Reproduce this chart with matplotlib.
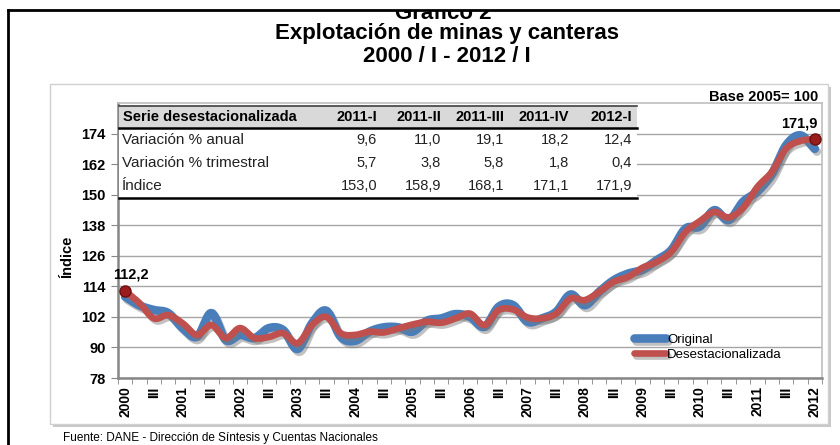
import numpy as np
import matplotlib
matplotlib.use("Agg")
from matplotlib import pyplot as plt
from matplotlib import patheffects as pe
from matplotlib.patches import Rectangle
from matplotlib.lines import Line2D

plt.rcParams['font.family'] = ['Liberation Sans', 'DejaVu Sans']

# quarters 2000-I .. 2012-I
years = list(range(2000, 2013))
original = [109.9, 106.5, 104.7, 103.5, 97.6, 94.2, 103.5, 92.9, 94.9, 93.7,
            97.6, 96.8, 89.4, 99.5, 104.4, 94.2, 92.6, 96.2, 97.9, 97.9,
            96.2, 100.5, 101.4, 103.1, 102.0, 98.1, 106.0, 106.6, 100.1, 101.4,
            104.0, 110.8, 106.6, 111.9, 116.4, 119.0, 120.5, 124.3, 128.2, 136.7,
            137.5, 143.9, 140.0, 147.2, 151.2, 158.0, 169.4, 173.3, 168.0]
desest = [112.2, 107.4, 101.4, 102.7, 99.5, 94.9, 98.8, 93.7, 97.6, 93.7,
          94.1, 95.6, 91.7, 98.8, 102.0, 95.6, 94.9, 96.2, 95.9, 97.5,
          99.0, 100.1, 99.7, 101.4, 103.3, 98.8, 104.7, 104.9, 101.8, 101.4,
          103.3, 109.2, 108.6, 111.9, 115.8, 117.7, 121.3, 123.6, 127.5, 135.4,
          139.6, 143.2, 141.1, 144.8, 153.0, 158.9, 168.1, 171.1, 171.9]

tab_cols = ['2011-I', '2011-II', '2011-III', '2011-IV', '2012-I']
tab_rows = ['Variación % anual', 'Variación % trimestral', 'Índice']
tab_vals = [['9,6', '11,0', '19,1', '18,2', '12,4'],
            ['5,7', '3,8', '5,8', '1,8', '0,4'],
            ['153,0', '158,9', '168,1', '171,1', '171,9']]

W, H = 840, 445


def px(x, y):
    return x / W, 1 - y / H


def smooth(y, n=20):
    # excel-like smoothed line (catmull-rom through the points)
    y = np.asarray(y, float)
    p = np.concatenate([[2 * y[0] - y[1]], y, [2 * y[-1] - y[-2]]])
    xs, ys = [], []
    t = np.linspace(0, 1, n, endpoint=False)
    for i in range(len(y) - 1):
        p0, p1, p2, p3 = p[i], p[i + 1], p[i + 2], p[i + 3]
        s = 0.5 * ((2 * p1) + (-p0 + p2) * t + (2 * p0 - 5 * p1 + 4 * p2 - p3) * t ** 2
                   + (-p0 + 3 * p1 - 3 * p2 + p3) * t ** 3)
        xs.extend(i + t)
        ys.extend(s)
    xs.append(len(y) - 1)
    ys.append(y[-1])
    return np.array(xs), np.array(ys)


fig = plt.figure(figsize=(8.4, 4.45), dpi=100)

# chart area box with shadow
fig.add_artist(Rectangle(px(53, 427), 778 / W, 340 / H, transform=fig.transFigure,
                         facecolor='#c8c8c8', edgecolor='none', zorder=0))
fig.add_artist(Rectangle(px(50, 424), 778 / W, 340 / H, transform=fig.transFigure,
                         facecolor='white', edgecolor='#d0d0d0', lw=1, zorder=0))

ax = fig.add_axes([118 / W, 1 - 378 / H, 704 / W, 275 / H])
ax.set_xlim(-0.28, 48.28)
ax.set_ylim(78, 186)

n = len(desest)
xo, yo = smooth(original)
xd, yd = smooth(desest)
shadow = [pe.SimpleLineShadow(offset=(1.5, -2), shadow_color='#777777', alpha=0.45), pe.Normal()]
ax.plot(xo, yo, color='#4a7ebb', lw=6.2, solid_capstyle='round', path_effects=shadow,
        label='Original', zorder=3)
ax.plot(xd, yd, color='#c0504d', lw=4.8, solid_capstyle='round', path_effects=shadow,
        label='Desestacionalizada', zorder=4)
ax.plot([0, n - 1], [desest[0], desest[-1]], 'o', ms=8, color='#9b1c1c',
        mec='#6e1010', zorder=5)

ax.annotate('112,2', (0, desest[0]), xytext=(-9, 9), textcoords='offset points',
            fontsize=10.5, fontweight='bold')
ax.annotate('171,9', (n - 1, desest[-1]), xytext=(-24, 8), textcoords='offset points',
            fontsize=10.5, fontweight='bold')

ax.set_yticks(np.arange(78, 175, 12))
ax.yaxis.grid(True, color='#a6a6a6', lw=1)
ax.set_axisbelow(True)
ax.tick_params(axis='y', length=5, color='#868686', labelsize=10.5, pad=4)
for t in ax.get_yticklabels():
    t.set_fontweight('bold')

xt, xl = [], []
for i in range(n):
    if i % 4 == 0:
        xt.append(i)
        xl.append(str(years[i // 4]))
    elif i % 4 == 2:
        xt.append(i)
        xl.append('III')
ax.set_xticks(xt)
ax.set_xticklabels(xl, rotation=90, fontsize=10, fontweight='bold')
ax.set_xticks(np.arange(-0.5, n, 1), minor=True)
ax.tick_params(axis='x', which='major', length=0, pad=6)
ax.tick_params(axis='x', which='minor', length=4, color='#868686')

for s in ['left', 'bottom']:
    ax.spines[s].set_color('#868686')
    ax.spines[s].set_linewidth(1.8)
for s in ['top', 'right']:
    ax.spines[s].set_color('#bfbfbf')
    ax.spines[s].set_linewidth(1.2)

fig.text(*px(67, 257), 'Índice', fontsize=10.5, fontweight='bold', rotation=90,
         ha='center', va='center')

leg = ax.legend(loc='lower right', bbox_to_anchor=(0.96, 0.02), frameon=False,
                fontsize=9.5, handlelength=2.4, handletextpad=0.1, labelspacing=0.2)

# summary table over the plot
fig.add_artist(Rectangle(px(119, 198), (637 - 119) / W, 92 / H, transform=fig.transFigure,
                         facecolor='white', edgecolor='none', zorder=6))
fig.add_artist(Rectangle(px(119, 128), (637 - 119) / W, 22 / H, transform=fig.transFigure,
                         facecolor='#d9d9d9', edgecolor='none', zorder=6))
for yy, lw, c in [(106, 1.2, '#404040'), (128, 1.8, 'black'), (198, 1.8, 'black')]:
    fig.add_artist(Line2D([119 / W, 637 / W], [1 - yy / H] * 2, transform=fig.transFigure,
                          color=c, lw=lw, zorder=7))
fig.text(*px(123, 117), 'Serie desestacionalizada', fontsize=10.5, fontweight='bold',
         va='center', ha='left', zorder=8)
col_x = [377, 441, 504, 569, 632]
for cx, c in zip(col_x, tab_cols):
    fig.text(*px(cx, 117), c, fontsize=10.5, fontweight='bold', va='center', ha='right', zorder=8)
row_y = [140, 163, 186]
for ry, r, vals in zip(row_y, tab_rows, tab_vals):
    fig.text(*px(122, ry), r, fontsize=11, color='#222222', va='center', ha='left', zorder=8)
    for cx, v in zip(col_x, vals):
        fig.text(*px(cx, ry), v, fontsize=10.5, color='#222222', va='center', ha='right', zorder=8)

fig.text(*px(818, 97), 'Base 2005= 100', fontsize=10.5, fontweight='bold', ha='right', va='center')

# titles
fig.text(*px(443, 19), 'Gráfico 2', fontsize=16, fontweight='bold', ha='center', va='baseline')
fig.add_artist(Rectangle((0, 1 - 10 / H), 1, 10 / H, transform=fig.transFigure,
                         facecolor='white', edgecolor='none', zorder=9))
fig.add_artist(Line2D([8 / W, 1], [1 - 10 / H] * 2, transform=fig.transFigure,
                      color='black', lw=2, zorder=10))
fig.add_artist(Line2D([8 / W, 8 / W], [0, 1 - 10 / H], transform=fig.transFigure,
                      color='black', lw=2, zorder=10))
fig.text(*px(447, 33), 'Explotación de minas y canteras', fontsize=16, fontweight='bold',
         ha='center', va='center')
fig.text(*px(447, 56), '2000 / I - 2012 / I', fontsize=16, fontweight='bold',
         ha='center', va='center')

fig.text(*px(63, 432), 'Fuente: DANE - Dirección de Síntesis y Cuentas Nacionales',
         fontsize=8.5, ha='left', va='top')

fig.savefig('out.png', dpi=100)
